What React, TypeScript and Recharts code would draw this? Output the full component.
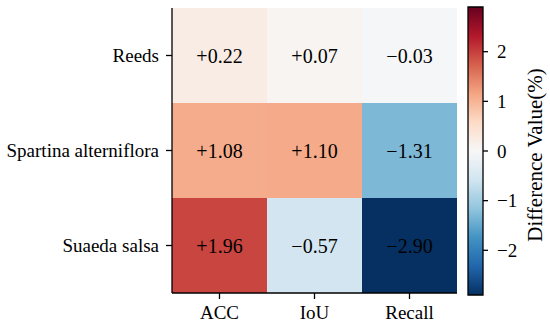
import { Bar, BarChart, Cell, LabelList, XAxis, YAxis } from "recharts";

const rowNames = ["Reeds", "Spartina alterniflora", "Suaeda salsa"];
const colNames = ["ACC", "IoU", "Recall"];
const reedsValues = [0.22, 0.07, -0.03];
const spartinaValues = [1.08, 1.1, -1.31];
const suaedaValues = [1.96, -0.57, -2.9];
const colorbarTicks = [-2, -1, 0, 1, 2];
const colorLimit = 2.9;

// matplotlib RdBu_r stops
const rdbuR = [
  "#053061", "#2166ac", "#4393c3", "#92c5de", "#d1e5f0", "#f7f7f7",
  "#fddbc7", "#f4a582", "#d6604d", "#b2182b", "#67001f",
];

const FONT = "Liberation Serif, Times New Roman, serif";

function hexToRgb(h: string) {
  return [1, 3, 5].map((i) => parseInt(h.slice(i, i + 2), 16));
}

function colorFor(v: number) {
  let t = (v + colorLimit) / (2 * colorLimit);
  t = Math.max(0, Math.min(1, t));
  const p = t * (rdbuR.length - 1);
  const i = Math.min(rdbuR.length - 2, Math.floor(p));
  const f = p - i;
  const a = hexToRgb(rdbuR[i]);
  const b = hexToRgb(rdbuR[i + 1]);
  const c = a.map((x, k) => Math.round(x + (b[k] - x) * f));
  return `rgb(${c[0]},${c[1]},${c[2]})`;
}

function fmtCell(v: number) {
  return v > 0 ? `+${v.toFixed(2)}` : `\u2212${Math.abs(v).toFixed(2)}`;
}

function fmtTick(v: number) {
  return v < 0 ? `\u2212${Math.abs(v)}` : `${v}`;
}

// stacked from the bottom up
const stackRows = [
  { key: "suaeda", values: suaedaValues },
  { key: "spartina", values: spartinaValues },
  { key: "reeds", values: reedsValues },
];

const chartData = colNames.map((c, j) => {
  const d: Record<string, string | number> = { metric: c };
  stackRows.forEach((r) => {
    d[r.key] = 1;
    d[r.key + "Label"] = r.values[j];
  });
  return d;
});

const rowTicks = [2.5, 1.5, 0.5];

function CellLabel(props: any) {
  const { x, y, width, height, value } = props;
  return (
    <text
      x={x + width / 2}
      y={y + height / 2}
      textAnchor="middle"
      dominantBaseline="central"
      fontSize={20}
      fontFamily={FONT}
      fill="#000"
    >
      {fmtCell(Number(value))}
    </text>
  );
}

export default function App() {
  const tickStyle = { fill: "#000", fontSize: 19, fontFamily: FONT };
  return (
    <div
      style={{
        position: "absolute",
        left: 0,
        top: 0,
        width: 550,
        height: 327,
        background: "#fff",
        fontFamily: FONT,
      }}
    >
      <div style={{ position: "absolute", left: 0, top: 0 }}>
        <BarChart
          width={470}
          height={327}
          data={chartData}
          margin={{ top: 8, right: 13, bottom: 0, left: 0 }}
          barCategoryGap={0}
          barGap={0}
        >
          <XAxis
            dataKey="metric"
            height={34}
            tick={tickStyle}
            tickSize={6}
            tickMargin={7}
            axisLine={{ stroke: "#000", strokeWidth: 1.3 }}
            tickLine={{ stroke: "#000", strokeWidth: 1.3 }}
          />
          <YAxis
            type="number"
            domain={[0, 3]}
            ticks={rowTicks}
            width={172}
            tick={tickStyle}
            tickSize={6}
            tickMargin={7}
            tickFormatter={(v: number) => rowNames[Math.round(2.5 - v)]}
            axisLine={{ stroke: "#000", strokeWidth: 1.3 }}
            tickLine={{ stroke: "#000", strokeWidth: 1.3 }}
          />
          {stackRows.map((r) => (
            <Bar
              key={r.key}
              dataKey={r.key}
              stackId="cells"
              isAnimationActive={false}
            >
              {r.values.map((v, j) => (
                <Cell key={j} fill={colorFor(v)} />
              ))}
              <LabelList dataKey={r.key + "Label"} content={CellLabel} />
            </Bar>
          ))}
        </BarChart>
      </div>
      <div style={{ position: "absolute", left: 460, top: 0 }}>
        <BarChart
          width={90}
          height={327}
          data={[{ name: "cb", span: [-colorLimit, colorLimit] }]}
          margin={{ top: 7, right: 0, bottom: 32, left: 8 }}
          barCategoryGap={0}
        >
          <defs>
            <linearGradient id="cbGrad" x1="0" y1="1" x2="0" y2="0">
              {rdbuR.map((c, i) => (
                <stop key={i} offset={i / (rdbuR.length - 1)} stopColor={c} />
              ))}
            </linearGradient>
          </defs>
          <XAxis dataKey="name" hide />
          <YAxis
            orientation="right"
            type="number"
            domain={[-colorLimit, colorLimit]}
            ticks={colorbarTicks}
            width={67}
            tick={tickStyle}
            tickSize={5}
            tickMargin={9}
            tickFormatter={fmtTick}
            axisLine={false}
            tickLine={{ stroke: "#000", strokeWidth: 1.3 }}
            label={{
              value: "Difference Value(%)",
              content: (p: any) => {
                const vb = p.viewBox;
                const cx = vb.x + 52;
                const cy = vb.y + vb.height / 2 + 4;
                return (
                  <text
                    x={cx}
                    y={cy}
                    transform={`rotate(-90, ${cx}, ${cy})`}
                    textAnchor="middle"
                    dominantBaseline="central"
                    fontSize={21}
                    fontFamily={FONT}
                    fill="#000"
                  >
                    Difference Value(%)
                  </text>
                );
              },
            }}
          />
          <Bar
            dataKey="span"
            fill="url(#cbGrad)"
            stroke="#000"
            strokeWidth={1.3}
            isAnimationActive={false}
          />
        </BarChart>
      </div>
    </div>
  );
}
